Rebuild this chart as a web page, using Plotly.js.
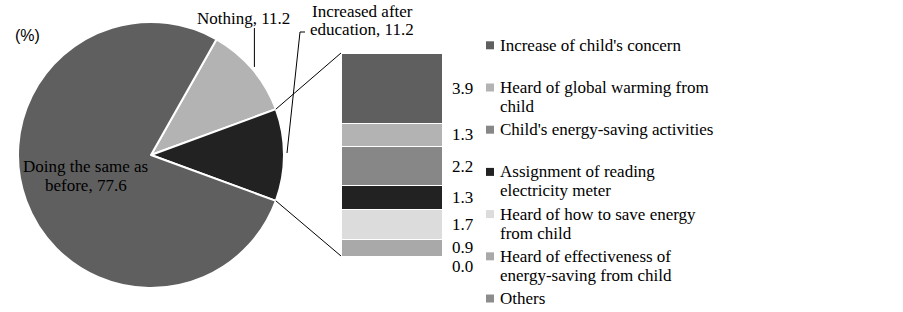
<!DOCTYPE html>
<html><head><meta charset="utf-8">
<script src="https://cdn.plot.ly/plotly-3.0.1.min.js"></script>
<style>html,body{margin:0;padding:0;background:#fff}</style>
</head><body><div id="chart" style="width:903px;height:312px"></div>
<script>
// ---- data ----
const pieLabels = ['Nothing', 'Increased after education', 'Doing the same as before'];
const pieValues = [11.2, 11.2, 77.6];
const pieColors = ['#b3b3b3', '#222222', '#5f5f5f'];
const pieTextLines = [['Nothing, 11.2'], ['Increased after', 'education, 11.2'], ['Doing the same as', 'before, 77.6']];

const barLabels = ["Increase of child's concern", "Heard of global warming from child",
  "Child's energy-saving activities", "Assignment of reading electricity meter",
  "Heard of how to save energy from child", "Heard of effectiveness of energy-saving from child", "Others"];
const barLegendLines = [["Increase of child's concern"], ["Heard of global warming from", "child"],
  ["Child's energy-saving activities"], ["Assignment of reading", "electricity meter"],
  ["Heard of how to save energy", "from child"], ["Heard of effectiveness of", "energy-saving from child"], ["Others"]];
const barValues = [3.9, 1.3, 2.2, 1.3, 1.7, 0.9, 0.0];
const barValueText = ['3.9', '1.3', '2.2', '1.3', '1.7', '0.9', '0.0'];
const barColors = ['#5f5f5f', '#b3b3b3', '#878787', '#222222', '#dcdcdc', '#a9a9a9', '#8c8c8c'];

// ---- layout geometry (pixels) ----
const W = 903, H = 312;
const cx = 151, cy = 155, R = 133;
const barL = 341, barR = 442, barT = 53, barB = 256;
const SERIF = 'Liberation Serif';
const px2x = p => p / W, py2y = p => 1 - p / H;

const pieTotal = pieValues.reduce((a, b) => a + b, 0);
const deg = v => v / pieTotal * 360;
// center the "Increased after education" slice at 3 o'clock
const rotation = 90 - deg(pieValues[1]) / 2 - deg(pieValues[0]);
const edgePt = a => { const r = a * Math.PI / 180; return [cx + R * Math.sin(r), cy - R * Math.cos(r)]; };

const barTotal = barValues.reduce((a, b) => a + b, 0);

const traces = [];
traces.push({
  type: 'pie', labels: pieLabels, values: pieValues, sort: false, direction: 'clockwise',
  rotation: rotation, textinfo: 'none', hoverinfo: 'label+value', showlegend: false,
  marker: { colors: pieColors, line: { color: '#ffffff', width: 2 } },
  domain: { x: [px2x(cx - R), px2x(cx + R)], y: [py2y(cy + R), py2y(cy - R)] }
});
for (let i = barValues.length - 1; i >= 0; i--) {
  traces.push({
    type: 'bar', x: [0], y: [barValues[i]], name: barLabels[i], showlegend: false,
    xaxis: 'x2', yaxis: 'y2', width: 1,
    marker: { color: barColors[i], line: { color: '#ffffff', width: 1 } },
    hovertemplate: barLabels[i] + ': %{y}<extra></extra>'
  });
}

// ---- annotations ----
const ann = [];
const shapes = [];
const txt = (t, x, y, anchor, size, family) => ann.push({ text: t, xref: 'paper', yref: 'paper', x: px2x(x), y: py2y(y),
  xanchor: anchor, yanchor: 'middle', showarrow: false, font: { family: family || SERIF, size: size || 17, color: '#000' } });

txt('(%)', 12.5, 35.5, 'left', 16, 'Liberation Sans');
const pieLabelPos = [[[243.5, 18]], [[362.5, 12], [362, 30]], [[85, 166], [85.5, 185]]];
pieTextLines.forEach((lines, i) => lines.forEach((t, j) => txt(t, pieLabelPos[i][j][0], pieLabelPos[i][j][1], 'center')));

// value labels beside the bar, pushed apart when too close
const unitPx = (barB - barT) / barTotal;
const minGap = 19 / unitPx;
let stackTop = barTotal, prevLabel = Infinity;
barValues.forEach((v, i) => {
  let c = stackTop - v / 2;
  stackTop -= v;
  if (c > prevLabel - minGap) c = prevLabel - minGap;
  prevLabel = c;
  txt(barValueText[i], barR + 8, barB - c * unitPx, 'left');
});

// legend (keys + wrapped text)
const legTop = 45.3, legStep = 42.2, legLine = 19, keyX = 486, keySize = 8, legTextX = 498;
barLegendLines.forEach((lines, i) => {
  const y0 = legTop + legStep * i;
  shapes.push({ type: 'rect', xref: 'paper', yref: 'paper', x0: px2x(keyX), x1: px2x(keyX + keySize),
    y0: py2y(y0 - keySize / 2), y1: py2y(y0 + keySize / 2), fillcolor: barColors[i], line: { width: 0 } });
  lines.forEach((t, j) => txt(t, legTextX, y0 + legLine * j, 'left'));
});

// ---- connector / leader lines ----
const a1 = rotation + deg(pieValues[0]);
const a2 = a1 + deg(pieValues[1]);
const p1 = edgePt(a1), p2 = edgePt(a2);
shapes.push({ type: 'line', xref: 'paper', yref: 'paper', x0: px2x(p1[0]), y0: py2y(p1[1]), x1: px2x(barL), y1: py2y(barT), line: { color: '#000', width: 1 } });
shapes.push({ type: 'line', xref: 'paper', yref: 'paper', x0: px2x(p2[0]), y0: py2y(p2[1]), x1: px2x(barL), y1: py2y(barB), line: { color: '#000', width: 1 } });
const pn = edgePt(rotation + deg(pieValues[0]) / 2);
shapes.push({ type: 'line', xref: 'paper', yref: 'paper', x0: px2x(pn[0] + 2), y0: py2y(pn[1] - 2), x1: px2x(pn[0] + 2), y1: py2y(28), line: { color: '#000', width: 1 } });
const pInc = edgePt(a1 + deg(pieValues[1]) / 2);
shapes.push({ type: 'path', xref: 'paper', yref: 'paper',
  path: `M${px2x(pInc[0] + 3)},${py2y(pInc[1] - 2)} L${px2x(300)},${py2y(32)} L${px2x(305)},${py2y(32)}`,
  line: { color: '#000', width: 1 } });

const layout = {
  width: W, height: H, margin: { l: 0, r: 0, t: 0, b: 0 },
  paper_bgcolor: '#fff', plot_bgcolor: 'rgba(0,0,0,0)',
  barmode: 'stack', bargap: 0, showlegend: false,
  xaxis2: { domain: [px2x(barL), px2x(barR)], range: [-0.5, 0.5], visible: false, fixedrange: true },
  yaxis2: { domain: [py2y(barB), py2y(barT)], range: [0, barTotal], visible: false, fixedrange: true, anchor: 'x2' },
  annotations: ann, shapes: shapes
};
Plotly.newPlot('chart', traces, layout, { displayModeBar: false, staticPlot: true });
</script></body></html>
